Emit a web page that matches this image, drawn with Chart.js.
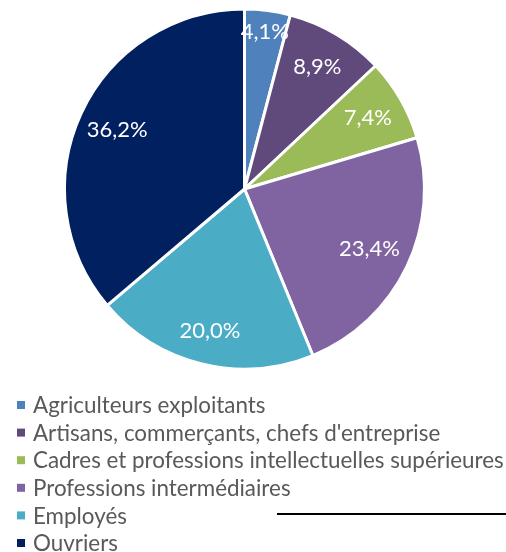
<!DOCTYPE html>
<html>
<head>
<meta charset="utf-8">
<script src="https://cdn.jsdelivr.net/npm/chart.js@4/dist/chart.umd.min.js"></script>
<style>
  html, body { margin: 0; padding: 0; background: #ffffff; }
  #wrap { position: relative; width: 506px; height: 552px; }
</style>
</head>
<body>
<div id="wrap"><canvas id="c" width="506" height="552"></canvas></div>
<script>
const categories = [
  "Agriculteurs exploitants",
  "Artisans, commerçants, chefs d'entreprise",
  "Cadres et professions intellectuelles supérieures",
  "Professions intermédiaires",
  "Employés",
  "Ouvriers"
];
const shares = [4.1, 8.9, 7.4, 23.4, 20.0, 36.2];
const sliceColors = ["#4F81BD", "#604A7B", "#9BBB59", "#8064A2", "#4BACC6", "#002060"];
const labelRadiusRatio = [0.88, 0.79, 0.79, 0.77, 0.81, 0.78];

const FONT = "Lato, 'Liberation Sans', sans-serif";

const labelPlugin = {
  id: 'sliceLabels',
  afterDatasetsDraw(chart) {
    const ctx = chart.ctx;
    const meta = chart.getDatasetMeta(0);
    ctx.save();
    ctx.fillStyle = '#ffffff';
    ctx.font = '22px ' + FONT;
    ctx.textAlign = 'center';
    ctx.textBaseline = 'middle';
    meta.data.forEach((arc, i) => {
      const p = arc.getProps(['x', 'y', 'startAngle', 'endAngle', 'outerRadius'], true);
      const mid = (p.startAngle + p.endAngle) / 2;
      const r = p.outerRadius * labelRadiusRatio[i];
      const x = p.x + Math.cos(mid) * r;
      const y = p.y + Math.sin(mid) * r;
      const v = chart.data.datasets[0].data[i];
      ctx.fillText(v.toFixed(1).replace('.', ',') + '%', x, y);
    });
    ctx.restore();
  }
};

const legendPlugin = {
  id: 'stackLegend',
  afterDraw(chart) {
    const ctx = chart.ctx;
    const ds = chart.data.datasets[0];
    ctx.save();
    ctx.font = '22.4px ' + FONT;
    ctx.textBaseline = 'middle';
    ctx.textAlign = 'left';
    const top = 405, step = 27.6;
    chart.data.labels.forEach((lab, i) => {
      const y = top + i * step;
      ctx.fillStyle = ds.backgroundColor[i];
      ctx.fillRect(17, y - 4, 8, 8);
      ctx.fillStyle = '#595959';
      ctx.fillText(lab, 33, y + 1);
    });
    // decorative rule
    ctx.strokeStyle = '#000000';
    ctx.lineWidth = 2;
    ctx.beginPath();
    ctx.moveTo(277, 514);
    ctx.lineTo(506, 514);
    ctx.stroke();
    ctx.restore();
  }
};

new Chart(document.getElementById('c'), {
  type: 'pie',
  data: {
    labels: categories,
    datasets: [{
      data: shares,
      backgroundColor: sliceColors,
      borderColor: '#ffffff',
      borderWidth: 3
    }]
  },
  options: {
    responsive: false,
    animation: false,
    layout: { padding: { top: 7.5, bottom: 181.5, left: 0, right: 17 } },
    plugins: {
      legend: { display: false },
      tooltip: { enabled: false }
    }
  },
  plugins: [labelPlugin, legendPlugin]
});
</script>
</body>
</html>
